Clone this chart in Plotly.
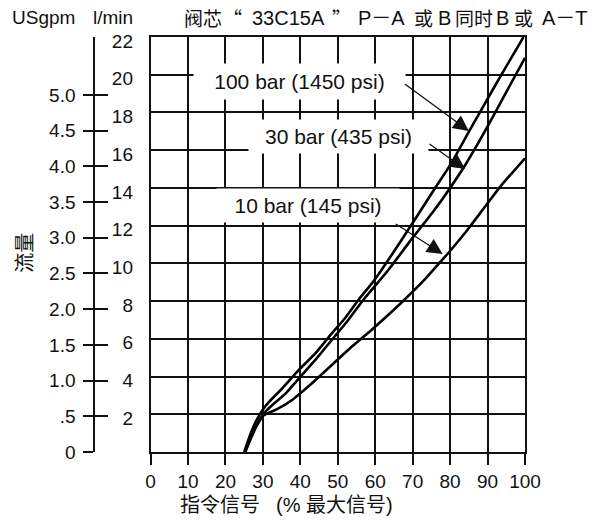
import plotly.graph_objects as go

# ---------------- data ----------------
x_100 = [25.0, 26.4, 28.1, 29.9, 31.7, 35.2, 39.6, 44.0, 48.4, 51.9, 55.5, 59.8, 66.9, 75.7, 80.3, 85.2, 89.5, 93.4, 99.6]
y_100 = [0.0, 0.81, 1.61, 2.23, 2.67, 3.38, 4.35, 5.23, 6.29, 7.09, 8.06, 9.12, 11.2, 13.9, 15.3, 17.05, 18.55, 19.9, 22.0]

x_30 = [25.3, 26.8, 28.6, 30.3, 32.5, 36.1, 40.0, 44.0, 48.4, 52.8, 56.8, 63.5, 69.0, 75.7, 80.0, 84.0, 89.0, 93.4, 100.0]
y_30 = [0.0, 0.73, 1.52, 2.05, 2.49, 3.11, 3.99, 4.88, 5.94, 7.0, 8.06, 9.65, 11.1, 12.8, 14.0, 15.2, 16.9, 18.5, 20.9]

x_10 = [25.2, 26.7, 28.5, 30.3, 33.4, 37.8, 43.1, 48.4, 53.7, 59.0, 66.9, 73.1, 77.5, 80.2, 84.6, 89.0, 93.4, 100.0]
y_10 = [0.0, 0.73, 1.45, 1.96, 2.23, 2.76, 3.64, 4.61, 5.58, 6.47, 7.9, 9.12, 10.1, 10.71, 11.77, 12.92, 14.07, 15.57]

x_ticks = list(range(0, 101, 10))
lpm_ticks = list(range(2, 23, 2))
gpm_ticks = [0, 0.5, 1.0, 1.5, 2.0, 2.5, 3.0, 3.5, 4.0, 4.5, 5.0]
gpm_labels = ["0", ".5", "1.0", "1.5", "2.0", "2.5", "3.0", "3.5", "4.0", "4.5", "5.0"]
LPM_PER_GPM = 3.7854

labels = ["100 bar (1450 psi)", "30 bar (435 psi)", "10 bar (145 psi)"]
label_pos = [(39.9, 19.65), (50.3, 16.7), (42.0, 13.05)]
label_box = [(209, 33), (177, 31), (180, 31)]
arrow_tail = [(67.5, 19.57), (74.1, 16.38), (65.1, 12.14)]
arrow_head = [(85.0, 17.02), (84.0, 15.0), (78.0, 10.5)]

title_tokens = ["阀芯", "“", "33C15A", "”", "P－A", "或", "B", "同时", "B", "或", "A－T"]
title_center_px = [200, 230, 286, 340, 380, 423, 443.5, 473.5, 502.5, 523, 565]
title_is_cjk = [True, True, False, True, False, True, False, True, False, True, False]

xtitle_tokens = ["指令信号", "(% 最大信号)"]
xtitle_center_px = [217, 333]

LATIN = "Liberation Sans, Arial, Helvetica, sans-serif"
MIXED = "Liberation Sans, Arial, Noto Sans CJK SC, sans-serif"
CJK = "Noto Sans CJK SC, Liberation Sans, sans-serif"
FS = 19

fig = go.Figure()
for xs, ys in [(x_100, y_100), (x_30, y_30), (x_10, y_10)]:
    fig.add_trace(go.Scatter(x=xs, y=ys, mode="lines",
                             line=dict(color="black", width=2.6, shape="spline", smoothing=0.5),
                             showlegend=False, hoverinfo="skip", cliponaxis=True))
# invisible traces to attach the gpm axes
fig.add_trace(go.Scatter(x=[50], y=[1], yaxis="y2", mode="markers", marker=dict(opacity=0), showlegend=False, hoverinfo="skip"))
fig.add_trace(go.Scatter(x=[50], y=[1], yaxis="y3", mode="markers", marker=dict(opacity=0), showlegend=False, hoverinfo="skip"))

L, R, T, B = 0, 72, 37, 73
W, H = 597, 525
pw = W - L - R
ph = H - T - B

def px(xp):
    return (xp - L) / pw

def py(yp):
    return (H - B - yp) / ph

gpm_max = 22 / LPM_PER_GPM

fig.update_layout(
    width=W, height=H,
    margin=dict(l=L, r=R, t=T, b=B),
    plot_bgcolor="white", paper_bgcolor="white",
    font=dict(family=LATIN, size=FS, color="#111"),
    xaxis=dict(domain=[px(147), 1], range=[0, 100], tickvals=x_ticks,
               showgrid=True, gridcolor="#111", gridwidth=1.6, zeroline=False,
               showline=True, linecolor="#111", linewidth=1.6, mirror=True,
               ticks="outside", ticklen=11, tickwidth=1.6, tickcolor="#111",
               ticklabelstandoff=0, tickfont=dict(size=FS)),
    yaxis=dict(range=[0, 22], tickvals=lpm_ticks,
               showgrid=True, gridcolor="#111", gridwidth=1.6, zeroline=False,
               showline=True, linecolor="#111", linewidth=1.6, mirror=True,
               ticks="", ticklabelstandoff=12, ticklabelshift=4, tickfont=dict(size=FS)),
    yaxis2=dict(overlaying="y", anchor="free", position=px(90), side="left",
                range=[0, gpm_max], tickvals=gpm_ticks, ticktext=gpm_labels,
                showgrid=False, zeroline=False, showline=True, linecolor="#111", linewidth=1.6,
                ticks="outside", ticklen=10, tickwidth=1.6, tickcolor="#111",
                ticklabelstandoff=4, tickfont=dict(size=FS)),
    yaxis3=dict(overlaying="y", anchor="free", position=px(90), side="left",
                range=[0, gpm_max], tickvals=gpm_ticks, showticklabels=False,
                showgrid=False, zeroline=False, showline=False,
                ticks="inside", ticklen=13, tickwidth=1.6, tickcolor="#111"),
)

ann = []
ann.append(dict(xref="paper", yref="paper", x=px(5), y=py(18), xanchor="left", yanchor="middle",
                text="USgpm", showarrow=False, font=dict(size=FS)))
ann.append(dict(xref="paper", yref="paper", x=px(87), y=py(18), xanchor="left", yanchor="middle",
                text="l/min", showarrow=False, font=dict(size=FS)))
for tok, xc, cjk in zip(title_tokens, title_center_px, title_is_cjk):
    ann.append(dict(xref="paper", yref="paper", x=px(xc), y=py(18), xanchor="center", yanchor="middle",
                    text=tok, showarrow=False, borderpad=0,
                    font=dict(family=CJK if cjk else MIXED, size=19 if cjk else 20)))
ann.append(dict(xref="paper", yref="paper", x=px(18), y=py(253), xanchor="center", yanchor="middle",
                text="流量", textangle=-90, showarrow=False, font=dict(family=CJK, size=20, color="#111")))
for tok, xc in zip(xtitle_tokens, xtitle_center_px):
    ann.append(dict(xref="paper", yref="paper", x=px(xc), y=py(505), xanchor="center", yanchor="middle",
                    text=tok, showarrow=False, font=dict(family=MIXED, size=20)))

for t, (lx, ly), (bw, bh) in zip(labels, label_pos, label_box):
    ann.append(dict(xref="x", yref="y", x=lx, y=ly, text=t, showarrow=False,
                    bgcolor="white", width=bw, height=bh, font=dict(size=21)))
for (tx, ty), (hx, hy) in zip(arrow_tail, arrow_head):
    ann.append(dict(xref="x", yref="y", axref="x", ayref="y", x=hx, y=hy, ax=tx, ay=ty,
                    text="", showarrow=True, arrowhead=2, arrowsize=2.4, arrowwidth=1.3,
                    arrowcolor="#111", standoff=0, startstandoff=0))

fig.update_layout(annotations=ann)
fig.write_html("out.html")
